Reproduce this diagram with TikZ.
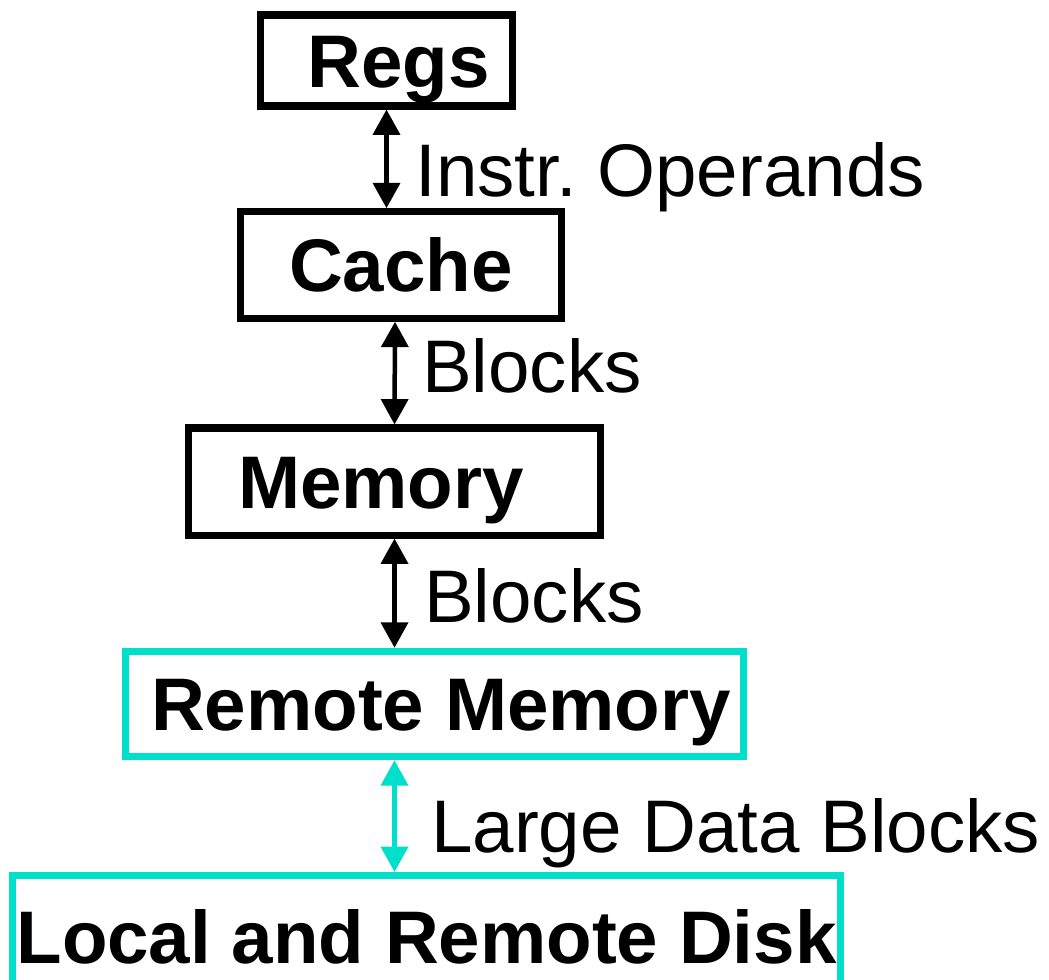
\documentclass[tikz,border=0pt]{standalone}
\usepackage{fontspec}
\setmainfont{Liberation Sans}
\usepackage{xcolor}
\usetikzlibrary{arrows.meta, positioning, calc}
\definecolor{linkcyan}{RGB}{0,222,204}
\frenchspacing

\begin{document}
\begin{tikzpicture}[x=0.025cm, y=-0.025cm,
    level/.style={draw, line width=5pt, inner sep=0pt, text height=38pt, text depth=0pt,
        font=\fontsize{53}{60}\selectfont\bfseries},
    far/.style={draw=linkcyan},
    link/.style={line width=3.2pt,
        {Triangle[length=18pt, width=19pt]}-{Triangle[length=18pt, width=19pt]}},
    tag/.style={anchor=base west, inner sep=0pt, font=\fontsize{53}{60}\selectfont}]
    \clip (0,0) rectangle (1049,979);
    % the levels, top to bottom
    \node[level, minimum width=6.275cm, minimum height=2.275cm] (regs) at (386.5,60.5) {\hspace*{0.6cm}Regs};
    \node[level, minimum width=8cm, minimum height=2.6625cm] (cache) at (401,265) {Cache};
    \node[level, minimum width=10.275cm, minimum height=2.675cm] (memory) at (394.5,481.5) {Memory\hspace*{0.675cm}};
    \node[level, far, minimum width=15.45cm, minimum height=2.6375cm] (remote) at (434.5,704) {\hspace*{0.325cm}Remote Memory};
    \node[level, far, minimum width=20.675cm, minimum height=3.05cm] (disk) at (426.5,936.5) {Local and Remote Disk};
    % transfers between levels
    \draw[link] (regs.south) -- (regs.south |- cache.north);
    \draw[link] ([xshift=-0.15cm]cache.south) -- (memory.north);
    \draw[link] (memory.south) -- (memory.south |- remote.north);
    \draw[link, color=linkcyan] (memory.south |- remote.south) -- (memory.south |- disk.north);
    \node[tag] (instr) at (415,196) {Instr. Operands};
    \node[tag] (blk1) at (422,392) {Blocks};
    \node[tag] (blk2) at (424,622) {Blocks};
    \node[tag] (large) at (431,852) {Large Data Blocks};
\end{tikzpicture}
\end{document}
